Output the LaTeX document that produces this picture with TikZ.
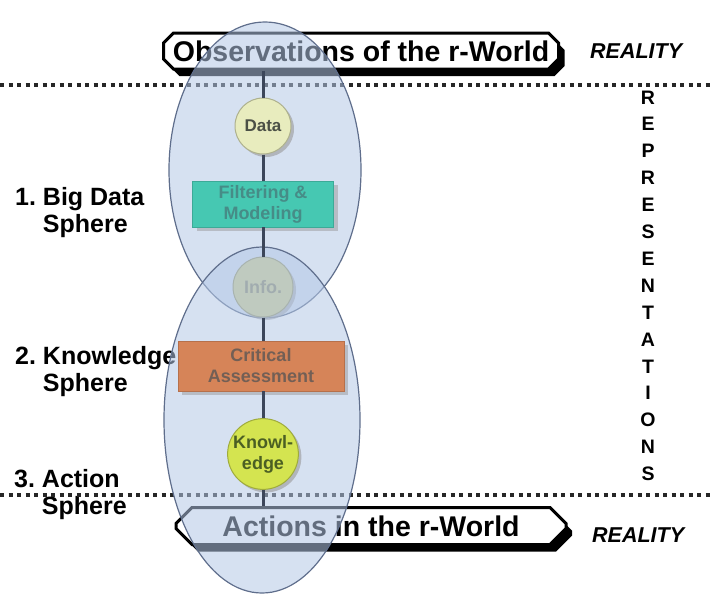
\documentclass[tikz,border=0pt]{standalone}
\usepackage{fontspec}
\setmainfont{Liberation Sans}
\usetikzlibrary{shapes.misc,shadows,positioning}

\definecolor{spherefill}{RGB}{180,200,230}
\definecolor{sphereline}{RGB}{95,110,140}
\definecolor{linkgray}{RGB}{60,70,90}
\definecolor{datafill}{RGB}{232,236,190}
\definecolor{datatext}{RGB}{75,80,70}
\definecolor{filterfill}{RGB}{70,200,178}
\definecolor{filtertext}{RGB}{70,140,135}
\definecolor{infofill}{RGB}{205,205,145}
\definecolor{infotext}{RGB}{140,140,110}
\definecolor{critfill}{RGB}{214,132,88}
\definecolor{crittext}{RGB}{115,95,85}
\definecolor{knowfill}{RGB}{212,228,80}
\definecolor{knowtext}{RGB}{75,95,35}

\tikzset{
  banner/.style={chamfered rectangle, chamfered rectangle xsep=5pt, chamfered rectangle ysep=5pt,
    draw=black, line width=3pt, fill=white, inner sep=0pt,
    drop shadow={shadow xshift=6pt, shadow yshift=-7pt, fill=black, opacity=1},
    font=\bfseries\fontsize{28.5}{30}\selectfont},
  sphere/.style={fill=spherefill, fill opacity=0.55, draw=sphereline, line width=1.2pt},
  stagecircle/.style={circle, draw=#1!75!black, fill=#1, line width=1pt, inner sep=0pt,
    align=center, drop shadow={shadow xshift=3pt, shadow yshift=-3pt, fill=black!40, opacity=0.6},
    font=\bfseries\fontsize{18}{21}\selectfont},
  stagebox/.style={rectangle, draw=#1!85!black, fill=#1, line width=0.8pt, inner sep=0pt,
    align=center, drop shadow={shadow xshift=4pt, shadow yshift=-4pt, fill=black!40, opacity=0.5},
    font=\bfseries\fontsize{18}{21}\selectfont},
  link/.style={draw=linkgray, line width=3pt},
  dotline/.style={black!85, line width=3.5pt, dash pattern=on 4pt off 4.5pt},
  spherelabel/.style={anchor=north west, align=left, inner sep=0pt,
    font=\bfseries\fontsize{25}{27}\selectfont},
  reality/.style={anchor=base west, inner sep=0pt, font=\bfseries\itshape\fontsize{21.5}{24}\selectfont},
  repletter/.style={anchor=base, inner sep=0pt, font=\bfseries\fontsize{19.5}{20}\selectfont}
}

\begin{document}
\begin{tikzpicture}[x=1pt, y=-1pt]
  \useasboundingbox (0,0) rectangle (713,595);

  % sphere names on the left
  \node[spherelabel] (lbig)  at (15,187) {1.~Big Data\\\phantom{1.~}Sphere};
  \node[spherelabel] (lknow) at (15,346) {2.~Knowledge\\\phantom{2.~}Sphere};
  \node[spherelabel] (lact)  at (14,469) {3.~Action\\\phantom{3.~}Sphere};

  % borders between reality and representations
  \draw[dotline] (0,85) -- (713,85);
  \draw[dotline] (0,495) -- (713,495);

  % the real world, top and bottom
  \node[banner, minimum width=395pt, minimum height=36pt] (obs) at (361,51) {Observations of the r-World};
  \node[banner, minimum width=390pt, minimum height=37pt, chamfered rectangle xsep=8pt, chamfered rectangle ysep=8pt] (act) at (371,526) {Actions in the r-World};

  \node[reality] (realtop) at (590,58) {REALITY};
  \node[reality] (realbot) at (592,542) {REALITY};

  \foreach \ch [count=\i from 0] in {R,E,P,R,E,S,E,N,T,A,T,I,O,N,S}
    \node[repletter] (rep\i) at (648,104+26.9*\i) {\ch};

  % spheres (info sits in the overlap)
  \draw[sphere] (265,170) ellipse [x radius=96, y radius=148];
  \node[stagecircle=infofill, minimum size=60pt, text=infotext] (info) at (263,287) {Info.};
  \draw[sphere] (262,420) ellipse [x radius=98, y radius=173];

  % stages
  \node[stagecircle=datafill, minimum size=56pt, text=datatext, font=\bfseries\fontsize{17}{20}\selectfont] (data) at (263,126) {Data};
  \node[stagebox=filterfill, minimum width=141pt, minimum height=46pt, text=filtertext] (filter) at (263,204) {Filtering \&\\Modeling};
  \node[stagebox=critfill, minimum width=166pt, minimum height=50pt, text=crittext] (crit) at (261,366) {Critical\\Assessment};
  \node[stagecircle=knowfill, minimum size=66pt, text=knowtext] (know) at (263,454) {Knowl-\\edge};

  % chain of stages
  \draw[link] (data |- obs.south) -- (data);
  \draw[link] (data) -- (filter);
  \draw[link] (filter) -- (info);
  \draw[link] (info) -- (info |- crit.north);
  \draw[link] (info |- crit.south) -- (know);
  \draw[link] (know) -- (know |- act.north);
\end{tikzpicture}
\end{document}
